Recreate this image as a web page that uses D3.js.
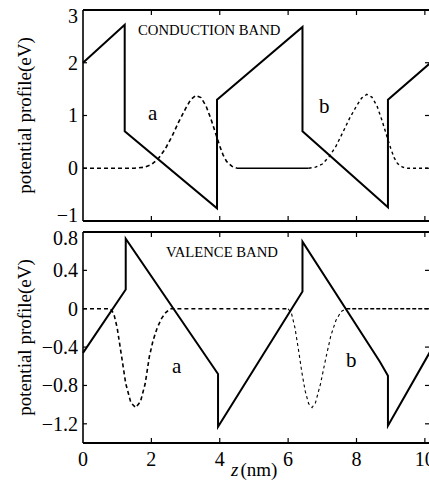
<!DOCTYPE html>
<html><head><meta charset="utf-8">
<script src="https://cdn.jsdelivr.net/npm/d3@7"></script>
<style>
html,body{margin:0;padding:0;background:#fff;}
svg{display:block;}
text{font-family:"Liberation Serif","Times New Roman",serif;fill:#000;}
</style></head>
<body>
<svg id="chart" width="429" height="480"></svg>
<script>
// ---- data ----
const xTicks = [0, 2, 4, 6, 8, 10];
const cbTicks = [-1, 0, 1, 2, 3];
const vbTicks = [-1.2, -0.8, -0.4, 0, 0.4, 0.8];

// conduction band potential (z nm, eV)
const cbZ = [0, 1.22, 1.22, 3.92, 3.92, 6.42, 6.42, 8.92, 8.92, 10.15];
const cbE = [2.0, 2.72, 0.70, -0.76, 1.30, 2.68, 0.70, -0.74, 1.30, 1.99];
// conduction wavefunction a
const cwaZ = [0, 1.5, 1.8, 2.0, 2.2, 2.4, 2.6, 2.8, 3.0, 3.15, 3.3, 3.45, 3.6, 3.75, 3.9, 4.0, 4.1, 4.2, 4.35, 4.5];
const cwaV = [0, 0, 0.02, 0.07, 0.18, 0.36, 0.6, 0.88, 1.13, 1.3, 1.38, 1.34, 1.18, 0.92, 0.62, 0.42, 0.25, 0.13, 0.04, 0];
// conduction zero-level segment between the two wavefunctions (solid in the picture)
const cBaseZ = [4.5, 6.6];
const cBaseV = [0, 0];
// conduction wavefunction b
const cwbZ = [6.6, 6.8, 7.0, 7.2, 7.4, 7.6, 7.8, 8.0, 8.15, 8.3, 8.45, 8.6, 8.75, 8.9, 9.0, 9.1, 9.2, 9.35, 9.5, 10.15];
const cwbV = [0, 0.02, 0.08, 0.22, 0.42, 0.68, 0.95, 1.18, 1.33, 1.40, 1.35, 1.18, 0.9, 0.58, 0.38, 0.2, 0.09, 0.02, 0, 0];

// valence band potential
const vbZ = [0, 1.25, 1.25, 3.95, 3.95, 6.42, 6.42, 8.68, 8.92, 8.92, 10.15];
const vbE = [-0.46, 0.20, 0.73, -0.68, -1.23, 0.18, 0.70, -0.55, -0.70, -1.22, -0.45];
// valence wavefunction a
const vwaZ = [0, 0.8, 0.9, 1.0, 1.13, 1.25, 1.4, 1.54, 1.68, 1.82, 1.94, 2.05, 2.17, 2.3, 2.42, 2.55, 6.0];
const vwaV = [0, 0, -0.05, -0.2, -0.5, -0.78, -0.98, -1.03, -0.97, -0.78, -0.5, -0.33, -0.2, -0.1, -0.04, 0, 0];
// valence wavefunction b
const vwbZ = [6.0, 6.1, 6.2, 6.3, 6.4, 6.5, 6.6, 6.7, 6.8, 6.95, 7.1, 7.25, 7.4, 7.55, 7.7];
const vwbV = [0, -0.05, -0.2, -0.42, -0.66, -0.86, -0.99, -1.03, -0.98, -0.78, -0.52, -0.28, -0.12, -0.03, 0];
// valence zero-level after wavefunction b
const vBaseZ = [7.7, 10.15];
const vBaseV = [0, 0];

const zip = (a, b) => a.map((v, i) => [v, b[i]]);

// ---- drawing ----
const svg = d3.select("#chart");
const x = d3.scaleLinear().domain([0, 10.15]).range([83, 430]);
const yC = d3.scaleLinear().domain([-1, 3]).range([221, 10]);
const yV = d3.scaleLinear().domain([-1.4, 0.8]).range([443, 232]);
const fmt = d => (d < 0 ? "\u2212" : "") + Math.abs(d);

function panel(y, ticks, title, titleX, titleY, series) {
  const g = svg.append("g");
  const [y0, y1] = y.range();
  const frame = g.append("g").attr("stroke", "#000").attr("fill", "none");
  frame.append("line").attr("x1", x(0)).attr("x2", 432).attr("y1", y1).attr("y2", y1).attr("stroke-width", 2);
  frame.append("line").attr("x1", x(0)).attr("x2", 432).attr("y1", y0).attr("y2", y0).attr("stroke-width", 2);
  frame.append("line").attr("x1", x(0)).attr("x2", x(0)).attr("y1", y1).attr("y2", y0).attr("stroke-width", 1.6);
  const xt = [2, 4, 6, 8, 10];
  g.selectAll(".xtb").data(xt).join("line")
    .attr("x1", d => x(d)).attr("x2", d => x(d)).attr("y1", y0).attr("y2", y0 - 5)
    .attr("stroke", "#000").attr("stroke-width", 1.2);
  g.selectAll(".xtt").data(xt).join("line")
    .attr("x1", d => x(d)).attr("x2", d => x(d)).attr("y1", y1).attr("y2", y1 + 5)
    .attr("stroke", "#000").attr("stroke-width", 1.2);
  g.selectAll(".ytl").data(ticks).join("line")
    .attr("x1", x(0)).attr("x2", x(0) + 4).attr("y1", d => y(d)).attr("y2", d => y(d))
    .attr("stroke", "#000").attr("stroke-width", 1.2);
  g.selectAll(".ytr").data(ticks).join("line")
    .attr("x1", 429).attr("x2", 425).attr("y1", d => y(d)).attr("y2", d => y(d))
    .attr("stroke", "#000").attr("stroke-width", 1.2);
  g.selectAll(".ylab").data(ticks).join("text")
    .attr("x", 78).attr("y", d => Math.min(Math.max(y(d), y1 + 6), y0 - 6))
    .attr("dy", "0.34em").attr("text-anchor", "end").attr("font-size", 20)
    .text(fmt);
  g.append("text")
    .attr("transform", `translate(31,${(y0 + y1) / 2}) rotate(-90)`)
    .attr("text-anchor", "middle").attr("font-size", 19)
    .text("potential profile(eV)");
  g.append("text").attr("x", titleX).attr("y", titleY).attr("font-size", 14.7).text(title);
  const line = d3.line().x(d => x(d[0])).y(d => y(d[1]));
  series.forEach(s => {
    g.append("path").datum(s.data).attr("d", line)
      .attr("fill", "none").attr("stroke", "#000")
      .attr("stroke-width", s.w).attr("stroke-dasharray", s.dash || null);
  });
  return g;
}

const gC = panel(yC, cbTicks, "CONDUCTION BAND", 138, 35, [
  { data: zip(cwaZ, cwaV), w: 1.6, dash: "4,3" },
  { data: zip(cBaseZ, cBaseV), w: 1.6 },
  { data: zip(cwbZ, cwbV), w: 1.4, dash: "3,3" },
  { data: zip(cbZ, cbE), w: 2 }
]);
gC.append("text").attr("x", 148).attr("y", 120).attr("font-size", 21).text("a");
gC.append("text").attr("x", 319).attr("y", 113).attr("font-size", 21).text("b");

const gV = panel(yV, vbTicks, "VALENCE BAND", 166, 257, [
  { data: zip(vwaZ, vwaV), w: 1.6, dash: "4,3" },
  { data: zip(vwbZ, vwbV), w: 1.1, dash: "3,3" },
  { data: zip(vBaseZ, vBaseV), w: 1.6, dash: "4,2" },
  { data: zip(vbZ, vbE), w: 2 }
]);
gV.append("text").attr("x", 172).attr("y", 373).attr("font-size", 21).text("a");
gV.append("text").attr("x", 346).attr("y", 367).attr("font-size", 21).text("b");

svg.selectAll(".xlab").data(xTicks).join("text")
  .attr("x", d => x(d)).attr("y", 466).attr("text-anchor", "middle").attr("font-size", 20)
  .text(d => d);
const xt = svg.append("text").attr("x", 231).attr("y", 476).attr("font-size", 19);
xt.append("tspan").attr("font-style", "italic").text("z");
xt.append("tspan").attr("dx", 2).text("(nm)");
</script>
</body></html>
